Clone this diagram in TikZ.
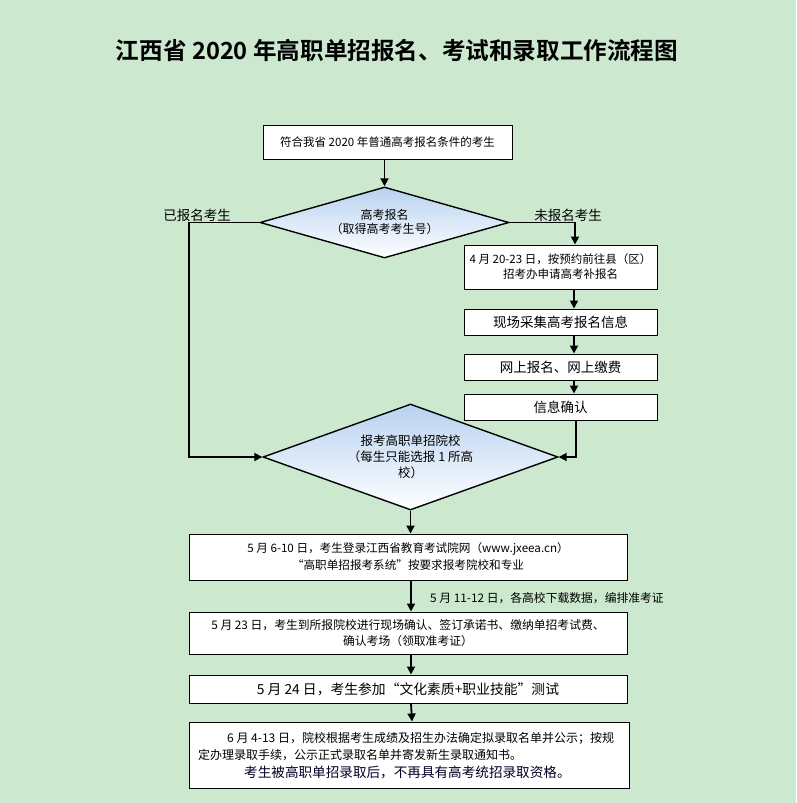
\documentclass[tikz,border=0pt]{standalone}
\usepackage{fontspec}
\setmainfont{Noto Sans CJK SC}
\newfontfamily\cjkb{Noto Sans CJK SC Bold}
\usetikzlibrary{arrows.meta,shapes.geometric,calc}
\definecolor{bg}{RGB}{204,232,207}
\definecolor{dtop}{RGB}{184,210,240}
\tikzset{
  box/.style={draw=black,line width=1pt,fill=white,inner sep=0pt,align=center,font=\fontsize{11.5}{16}\selectfont},
  dia/.style={draw=black,line width=1.4pt,diamond,top color=dtop,bottom color=white,inner sep=0pt,align=center,font=\fontsize{12}{14}\selectfont},
  arr/.style={line width=1.8pt,-{Triangle[length=8pt,width=8pt]}},
  lbl/.style={inner sep=0pt,font=\fontsize{13.5}{16}\selectfont}
}
\begin{document}
\begin{tikzpicture}[x=1pt,y=-1pt]
\path[use as bounding box,fill=bg] (0,0) rectangle (796,803);
\node[inner sep=0pt,font=\cjkb\fontsize{23.6}{26}\selectfont] (title) at (397,50) {江西省 2020 年高职单招报名、考试和录取工作流程图};
\node[box,minimum width=249pt,minimum height=34pt] (b1) at (387.5,142) {符合我省 2020 年普通高考报名条件的考生};
\node[dia,aspect=3.5,minimum width=249pt,minimum height=71pt] (d1) at (384.5,222.5) {高考报名\\（取得高考考生号）};
\node[lbl,anchor=south] (l1) at (197,222) {已报名考生};
\node[lbl,anchor=south] (l2) at (568,222) {未报名考生};
\node[box,minimum width=193pt,minimum height=44pt,font=\fontsize{11.5}{15}\selectfont] (b2) at (560.5,267) {4 月 20-23 日，按预约前往县（区）\\招考办申请高考补报名};
\node[box,minimum width=193pt,minimum height=26pt,font=\fontsize{13.5}{16}\selectfont] (b3) at (560.5,322) {现场采集高考报名信息};
\node[box,minimum width=193pt,minimum height=26pt,font=\fontsize{13.5}{16}\selectfont] (b4) at (560.5,367) {网上报名、网上缴费};
\node[box,minimum width=193pt,minimum height=26pt,font=\fontsize{13.5}{16}\selectfont] (b5) at (560.5,407) {信息确认};
\node[dia,aspect=2.78,minimum width=295pt,minimum height=106pt,font=\fontsize{12.5}{16}\selectfont] (d2) at (410.5,457) {报考高职单招院校\\（每生只能选报 1 所高\\校）};
\node[box,minimum width=438pt,minimum height=46pt,font=\fontsize{11.6}{17}\selectfont] (b6) at (408,557) {5 月 6-10 日，考生登录江西省教育考试院网（www.jxeea.cn）\\“高职单招报考系统”按要求报考院校和专业};
\node[inner sep=0pt,anchor=west,font=\fontsize{11.8}{14}\selectfont] (l3) at (430,598) {5 月 11-12 日，各高校下载数据，编排准考证};
\node[box,minimum width=438pt,minimum height=42pt,font=\fontsize{11.8}{16}\selectfont] (b7) at (408,633) {5 月 23 日，考生到所报院校进行现场确认、签订承诺书、缴纳单招考试费、\\确认考场（领取准考证）};
\node[box,minimum width=438pt,minimum height=28pt,font=\fontsize{13.8}{16}\selectfont] (b8) at (408,689) {5 月 24 日，考生参加“文化素质+职业技能”测试};
\node[box,minimum width=440pt,minimum height=66pt] (b9) at (409,755) {};
\node[inner sep=0pt,anchor=west,font=\fontsize{12}{14}\selectfont] (t9a) at (227,738) {6 月 4-13 日，院校根据考生成绩及招生办法确定拟录取名单并公示；按规};
\node[inner sep=0pt,anchor=west,font=\fontsize{12}{14}\selectfont] (t9b) at (198,755) {定办理录取手续，公示正式录取名单并寄发新生录取通知书。};
\node[inner sep=0pt,anchor=west,font=\fontsize{13.6}{16}\selectfont,text=black!85!blue] (t9c) at (244,772) {考生被高职单招录取后，不再具有高考统招录取资格。};
% connectors
\draw[arr] (d1.north |- b1.south) -- (d1.north);
\draw[arr] (d1.west) -- ++(-70,0) |- (d2.west);
\draw[arr] (d1.east) -| ([xshift=14.5pt]b2.north);
\draw[arr] ([xshift=13.5pt]b2.south) -- ([xshift=13.5pt]b3.north);
\draw[arr] ([xshift=13.5pt]b3.south) -- ([xshift=13.5pt]b4.north);
\draw[arr] ([xshift=13.5pt]b4.south) -- ([xshift=13.5pt]b5.north);
\draw[arr] ([xshift=15.5pt]b5.south) |- (d2.east);
\draw[arr] (d2.south) -- (d2.south |- b6.north);
\draw[arr] ([xshift=3pt]b6.south) -- ([xshift=3pt]b7.north);
\draw[arr] ([xshift=3pt]b7.south) -- ([xshift=3pt]b8.north);
\draw[arr] ([xshift=3pt]b8.south) -- ([xshift=3pt]b9.north);
\end{tikzpicture}
\end{document}
